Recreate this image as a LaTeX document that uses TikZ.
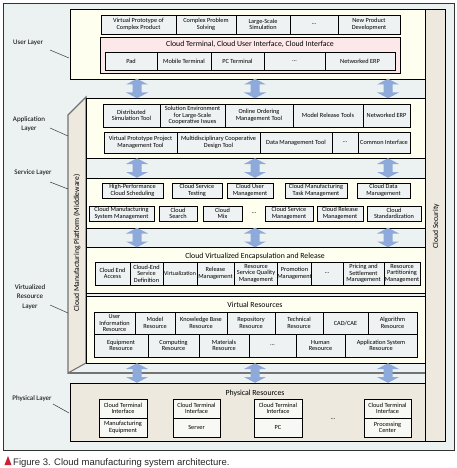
\documentclass[tikz,border=0pt]{standalone}
\usepackage{fontspec}
\setmainfont{Carlito}
\newfontfamily\capfont{Liberation Sans}
\definecolor{bgc}{HTML}{ECF1F1}
\definecolor{cream}{HTML}{FFFFF0}
\definecolor{cellc}{HTML}{EEF2F2}
\definecolor{cellw}{HTML}{F8F8F4}
\definecolor{pinkc}{HTML}{FCE8E8}
\definecolor{beige}{HTML}{EDE9DF}
\definecolor{arrowc}{HTML}{8EAADB}
\definecolor{capred}{HTML}{CC2233}
\tikzset{
  layer/.style={draw=black, line width=0.7pt, fill=cream},
  cellbox/.style={draw=black, line width=0.5pt, fill=cellc, inner sep=0pt, align=center, font=\fontsize{6.3}{6.6}\selectfont},
  ttl/.style={font=\fontsize{7.8}{8.5}\selectfont, inner sep=0pt},
  lbl/.style={font=\fontsize{7}{9.5}\selectfont, align=center, inner sep=0pt},
  vert/.style={font=\fontsize{7.6}{9}\selectfont, inner sep=0pt, rotate=90},
  leader/.style={draw=black!80, line width=0.5pt},
  edge3d/.style={draw=black!55, line width=1.1pt},
  dbl/.pic={\fill[arrowc] (0,-9.8) -- (11,-4) -- (4.5,-4) -- (4.5,4) -- (11,4) -- (0,9.8) -- (-11,4) -- (-4.5,4) -- (-4.5,-4) -- (-11,-4) -- cycle;}
}
\newcommand\mkcell[7][]{\node[cellbox,#1, minimum width={(#5)-(#3)}, minimum height={(#6)-(#4)}] (#2) at ({((#3)+(#5))/2},{((#4)+(#6))/2}) {#7};}
\begin{document}
\begin{tikzpicture}[x=1pt,y=-1pt]
\useasboundingbox (0,0) rectangle (456,468);
% outer frame
\path[draw=black!80, line width=0.7pt, fill=bgc] (3,3) rectangle (454,450);
% cloud security column
\path[draw=black, line width=0.7pt, fill=beige] (425,9) rectangle (445,441);
\node[vert] (sec) at (436,226) {Cloud Security};
% user layer
\path[layer] (70,9) rectangle (425,79);
\mkcell{u1}{101}{15}{176}{34}{Virtual Prototype of\\Complex Product}
\mkcell{u2}{176}{15}{236}{34}{Complex Problem\\Solving}
\mkcell{u3}{236}{15}{290}{34}{Large-Scale\\Simulation}
\mkcell{u4}{290}{15}{338}{34}{\dots}
\mkcell{u5}{338}{15}{400}{34}{New Product\\Development}
\path[draw=black, line width=0.6pt, fill=pinkc] (100,37) rectangle (400,73);
\node[ttl] (cti) at (250,44.5) {Cloud Terminal, Cloud User Interface, Cloud Interface};
\mkcell{p1}{105}{52}{157}{70}{Pad}
\mkcell{p2}{157}{52}{211}{70}{Mobile Terminal}
\mkcell{p3}{211}{52}{264}{70}{PC Terminal}
\mkcell{p4}{264}{52}{325}{70}{\dots}
\mkcell{p5}{325}{52}{395}{70}{Networked ERP}
% middleware slab and front face
\path[edge3d, fill=beige] (68,115) -- (86,97) -- (86,363) -- (68,373) -- cycle;
\draw[edge3d] (68,373) -- (425,373);
\node[vert] (mw) at (77,243) {Cloud Manufacturing Platform (Middleware)};
\path[draw=black, line width=0.7pt, fill=bgc] (86,98) rectangle (425,363);
% application layer
\path[layer] (86,98) rectangle (425,158);
\mkcell{a1}{103}{104}{160}{127}{Distributed\\Simulation Tool}
\mkcell{a2}{160}{104}{225}{127}{Solution Environment\\for Large-Scale\\Cooperative Issues}
\mkcell{a3}{225}{104}{293}{127}{Online Ordering\\Management Tool}
\mkcell{a4}{293}{104}{363}{127}{Model Release Tools}
\mkcell{a5}{363}{104}{410}{127}{Networked ERP}
\mkcell{a6}{104}{132}{177}{153}{Virtual Prototype Project\\Management Tool}
\mkcell{a7}{177}{132}{260}{153}{Multidisciplinary Cooperative\\Design Tool}
\mkcell{a8}{260}{132}{332}{153}{Data Management Tool}
\mkcell{a9}{332}{132}{358}{153}{\dots}
\mkcell{a10}{358}{132}{410}{153}{Common Interface}
% service layer
\path[layer] (86,178) rectangle (425,228);
\mkcell{s1}{102}{183}{163}{198}{High-Performance\\Cloud Scheduling}
\mkcell{s2}{172}{183}{222}{198}{Cloud Service\\Testing}
\mkcell{s3}{227}{183}{273}{198}{Cloud User\\Management}
\mkcell{s4}{285}{183}{347}{198}{Cloud Manufacturing\\Task Management}
\mkcell{s5}{357}{183}{410}{198}{Cloud Data\\Management}
\mkcell{s6}{89}{206}{154}{221}{Cloud Manufacturing\\System Management}
\mkcell{s7}{159}{206}{197}{221}{Cloud\\Search}
\mkcell{s8}{203}{206}{242}{221}{Cloud\\Mix}
\node[cellbox, draw=none, fill=none] (sdots) at (254,213.5) {\dots};
\mkcell{s9}{265}{206}{313}{221}{Cloud Service\\Management}
\mkcell{s10}{317}{206}{363}{221}{Cloud Release\\Management}
\mkcell{s11}{367}{206}{421}{221}{Cloud\\Standardization}
% virtualized encapsulation
\path[layer] (86,247) rectangle (425,293);
\node[ttl] (vti) at (255,256) {Cloud Virtualized Encapsulation and Release};
\mkcell{v1}{95}{262}{130}{285}{Cloud End\\Access}
\mkcell{v2}{130}{262}{163}{285}{Cloud-End\\Service\\Definition}
\mkcell[font=\fontsize{5.9}{6.6}\selectfont]{v3}{163}{262}{197}{285}{Virtualization}
\mkcell{v4}{197}{262}{234}{285}{Release\\Management}
\mkcell{v5}{234}{262}{278}{285}{Resource\\Service Quality\\Management}
\mkcell{v6}{278}{262}{311}{285}{Promotion\\Management}
\mkcell{v7}{311}{262}{343}{285}{\dots}
\mkcell{v8}{343}{262}{384}{285}{Pricing and\\Settlement\\Management}
\mkcell{v9}{384}{262}{420}{285}{Resource\\Partitioning\\Management}
% virtual resources
\path[layer] (86,296) rectangle (425,363);
\node[ttl] (rti) at (255,305) {Virtual Resources};
\mkcell{r1}{94}{312}{135}{334}{User\\Information\\Resource}
\mkcell{r2}{135}{312}{175}{334}{Model\\Resource}
\mkcell{r3}{175}{312}{227}{334}{Knowledge Base\\Resource}
\mkcell{r4}{227}{312}{275}{334}{Repository\\Resource}
\mkcell{r5}{275}{312}{323}{334}{Technical\\Resource}
\mkcell{r6}{323}{312}{368}{334}{CAD/CAE}
\mkcell{r7}{368}{312}{417}{334}{Algorithm\\Resource}
\mkcell{r8}{94}{334}{148}{357}{Equipment\\Resource}
\mkcell{r9}{148}{334}{199}{357}{Computing\\Resource}
\mkcell{r10}{199}{334}{249}{357}{Materials\\Resource}
\mkcell{r11}{249}{334}{296}{357}{\dots}
\mkcell{r12}{296}{334}{345}{357}{Human\\Resource}
\mkcell{r13}{345}{334}{417}{357}{Application System\\Resource}
% physical layer
\path[draw=black, line width=0.7pt, fill=beige] (70,383) rectangle (425,441);
\node[ttl] (pti) at (255,393) {Physical Resources};
\mkcell[fill=cellw]{c1}{99}{399}{147}{418}{Cloud Terminal\\Interface}
\mkcell[fill=cellw]{m1}{99}{418}{147}{437}{Manufacturing\\Equipment}
\mkcell[fill=cellw]{c2}{173}{399}{220}{418}{Cloud Terminal\\Interface}
\mkcell[fill=cellw]{m2}{173}{418}{220}{437}{Server}
\mkcell[fill=cellw]{c3}{254}{399}{302}{418}{Cloud Terminal\\Interface}
\mkcell[fill=cellw]{m3}{254}{418}{302}{437}{PC}
\node[cellbox, draw=none, fill=none] (pdots) at (333,419) {\dots};
\mkcell[fill=cellw]{c4}{364}{399}{411}{418}{Cloud Terminal\\Interface}
\mkcell[fill=cellw]{m4}{364}{418}{411}{437}{Processing\\Center}
% arrows between layers
\foreach \yy in {88.5,168,237.5,373}{
  \foreach \xx in {137,255,388}{
    \pic at (\xx,\yy) {dbl};
  }
}
% left labels and leaders
\node[lbl] (lu) at (28,43) {User Layer};
\coordinate (lus) at (50,50);
\coordinate (lue) at (69,58);
\draw[leader] (lus) -- (lue);
\node[lbl] (la) at (29,124) {Application\\Layer};
\coordinate (las) at (50,128);
\coordinate (lae) at (68,136);
\draw[leader] (las) -- (lae);
\node[lbl] (ls) at (33,173) {Service Layer};
\coordinate (lss) at (50,182);
\coordinate (lse) at (68,189);
\draw[leader] (lss) -- (lse);
\node[lbl] (lv) at (30,297) {Virtualized\\Resource\\Layer};
\coordinate (lvs) at (50,305);
\coordinate (lve) at (68,313);
\draw[leader] (lvs) -- (lve);
\node[lbl] (lp) at (32,399) {Physical Layer};
\coordinate (lps) at (53,404);
\coordinate (lpe) at (69,413);
\draw[leader] (lps) -- (lpe);
% caption
\fill[capred] (4.5,465) -- (8,456) -- (11.5,465) -- cycle;
\node[anchor=base west, inner sep=0pt, font=\capfont\fontsize{9.5}{11}\selectfont, text=black!85] (cap) at (13,465) {Figure 3. Cloud manufacturing system architecture.};
\end{tikzpicture}
\end{document}
